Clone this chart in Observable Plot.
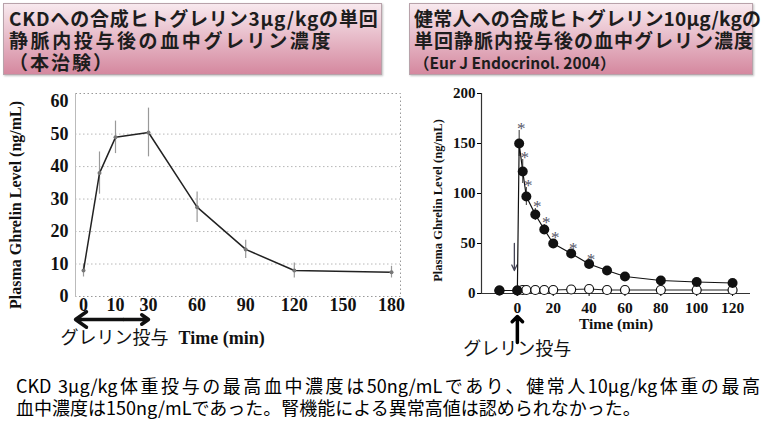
<!DOCTYPE html>
<html><head><meta charset="utf-8">
<script src="https://cdn.jsdelivr.net/npm/d3@7"></script>
<script src="https://cdn.jsdelivr.net/npm/@observablehq/plot@0.6"></script>
<style>
body{margin:0;background:#fff;width:764px;height:423px;overflow:hidden;position:relative;font-family:"Noto Sans CJK JP",sans-serif;}
.box{position:absolute;top:3px;height:72px;box-sizing:border-box;border:1px solid #b8a2aa;background:linear-gradient(#f8e9ee,#d5889f);box-shadow:1px 1px 2px rgba(0,0,0,.25);padding:3px 0 0 5px;font-weight:700;font-size:19px;line-height:22px;color:#1d1d1d;white-space:nowrap}
#b1{left:3px;width:379px}
#b2{left:409px;width:344px;padding-left:4px}
#c1{position:absolute;left:0;top:85px}
#c2{position:absolute;left:405px;top:80px}
.cap{position:absolute;left:16px;font-size:18px;line-height:22px;color:#000;white-space:nowrap}
</style></head><body>
<div class="box" id="b1"><div style="letter-spacing:0.8px">CKDへの合成ヒトグレリン3μg/kgの単回</div><div style="letter-spacing:2.6px">静脈内投与後の血中グレリン濃度</div><div style="letter-spacing:2px">（本治験）</div></div>
<div class="box" id="b2"><div style="letter-spacing:0.2px">健常人への合成ヒトグレリン10μg/kgの</div><div style="letter-spacing:1px">単回静脈内投与後の血中グレリン濃度</div><div style="font-weight:600;font-size:15.5px">（Eur J Endocrinol. 2004）</div></div>
<div id="c1"></div>
<div id="c2"></div>
<div class="cap" style="top:374px;width:744px;text-align:justify;text-align-last:justify">CKD 3μg/kg体重投与の最高血中濃度は50ng/mLであり、健常人10μg/kg体重の最高</div>
<div class="cap" style="top:396px">血中濃度は150ng/mLであった。腎機能による異常高値は認められなかった。</div>
<script>
// ---- Left chart data (CKD, 3 μg/kg) ----
const ckdTime = [0, 5, 10, 30, 60, 90, 120, 180];
const ckdMean = [8, 38, 49, 50.5, 27.5, 14.5, 8, 7.5];
const ckdSD = [2, 6.5, 5, 7.5, 4.7, 2.8, 2.3, 1.8];
const ckdXTicks = [0, 10, 30, 60, 90, 120, 150, 180];
const ckdYTicks = [0, 10, 20, 30, 40, 50, 60];
const dosePeriod = [0, 30];

// ---- Right chart data (healthy, 10 μg/kg) ----
const hvTime = [-10, 0, 1, 3, 5, 10, 15, 20, 30, 40, 50, 60, 80, 100, 120];
const hvGhrelin = [3, 3, 150, 122, 97, 79, 64, 50, 40, 29.5, 23, 17, 13, 11.5, 10.5];
const hvSE = [0.5, 0.5, 13, 12, 9, 6, 5, 4, 3, 2.5, 2, 1.5, 1, 1, 1];
const hvStarTimes = [1, 3, 5, 10, 15, 20, 30, 40];
const pboTime = [-10, 0, 3, 5, 10, 15, 20, 30, 40, 50, 60, 80, 100, 120];
const pboGhrelin = [3, 3, 3.5, 3.5, 3.5, 3.5, 3.5, 4, 4.5, 3.5, 3.5, 3.5, 3.5, 3.5];
const hvXTicks = [0, 20, 40, 60, 80, 100, 120];
const hvYTicks = [0, 50, 100, 150, 200];
const doseTime = [0];

const serif = '"Liberation Serif","Times New Roman",serif';
const jp = '"Noto Sans CJK JP",sans-serif';

const ckd = ckdTime.map((t, i) => ({t, v: ckdMean[i], sd: ckdSD[i]}));
const mid = (dosePeriod[0] + dosePeriod[1]) / 2;

const p1 = Plot.plot({
  width: 405, height: 280,
  marginLeft: 75, marginRight: 5, marginTop: 8, marginBottom: 69,
  x: {type: "linear", domain: [0, 10, 30, 180], range: [83, 115, 148, 391]},
  y: {domain: [0, 62.5]},
  style: {background: "transparent", overflow: "visible"},
  marks: [
    Plot.gridY(ckdYTicks.slice(1, 6), {stroke: "#999", strokeOpacity: 0.7, strokeDasharray: "1.5,2.5"}),
    Plot.frame({stroke: "#999", strokeDasharray: "1.5,2.5"}),
    Plot.frame({anchor: "left", stroke: "#bbb"}),
    Plot.axisY(ckdYTicks, {tickSize: 0, tickPadding: 7, fontSize: 18, fontWeight: "bold", fontFamily: serif, fill: "#111", label: null}),
    Plot.axisX(ckdXTicks, {tickSize: 0, tickPadding: 2, fontSize: 18, fontWeight: "bold", fontFamily: serif, fill: "#111", label: null}),
    Plot.ruleX(ckd, {x: "t", y1: d => d.v - d.sd, y2: d => d.v + d.sd, stroke: "#999", strokeWidth: 1.2}),
    Plot.line(ckd, {x: "t", y: "v", stroke: "#222", strokeWidth: 1.5}),
    Plot.dot(ckd, {x: "t", y: "v", r: 2, fill: "#777"}),
    Plot.arrow([{a: mid, b: dosePeriod[0]}], {x1: "a", x2: "b", y1: () => 0, y2: () => 0, dy: 23, insetEnd: -8, stroke: "#111", strokeWidth: 3.5, headLength: 12, headAngle: 70}),
    Plot.arrow([{a: mid, b: dosePeriod[1]}], {x1: "a", x2: "b", y1: () => 0, y2: () => 0, dy: 23, stroke: "#111", strokeWidth: 3.5, headLength: 12, headAngle: 70}),
    Plot.text(["Plasma Ghrelin Level (ng/mL)"], {frameAnchor: "left", textAnchor: "middle", rotate: -90, dx: -60, dy: 10, fontSize: 16, fontWeight: "bold", fontFamily: serif, fill: "#111"}),
    Plot.text(["グレリン投与"], {frameAnchor: "bottom-left", dx: -15, dy: 47, textAnchor: "start", fontSize: 18, fontFamily: jp, fill: "#111"}),
    Plot.text(["Time (min)"], {frameAnchor: "bottom-left", dx: 103, dy: 47, textAnchor: "start", fontSize: 18, fontWeight: "bold", fontFamily: serif, fill: "#111"})
  ]
});
document.getElementById("c1").append(p1);

const hv = hvTime.map((t, i) => ({t, v: hvGhrelin[i], se: hvSE[i]}));
const pbo = pboTime.map((t, i) => ({t, v: pboGhrelin[i]}));
const stars = hv.filter(d => hvStarTimes.includes(d.t));

const p2 = Plot.plot({
  width: 359, height: 285,
  marginLeft: 76, marginRight: 14, marginTop: 13, marginBottom: 72,
  x: {domain: [-20, 130]},
  y: {domain: [0, 200]},
  style: {background: "transparent", overflow: "visible"},
  marks: [
    Plot.ruleY([0], {stroke: "#333", strokeWidth: 1.2}),
    Plot.ruleX([-20], {stroke: "#333", strokeWidth: 1.2}),
    Plot.axisY(hvYTicks, {tickSize: 4, tickPadding: 2, fontSize: 15, fontWeight: "bold", fontFamily: serif, fill: "#111", label: null}),
    Plot.axisX(hvXTicks, {tickSize: 3, tickPadding: 5, fontSize: 15.5, fontWeight: "bold", fontFamily: serif, fill: "#111", label: null}),
    Plot.arrow(doseTime, {x1: d => d, x2: d => d, y1: () => 50, y2: () => 23, dx: -3, stroke: "#445", strokeWidth: 1.3, headLength: 7, headAngle: 50}),
    Plot.ruleX(hv, {x: "t", y1: d => d.v - d.se, y2: d => d.v + d.se, stroke: "#333", strokeWidth: 1}),
    Plot.line(pbo, {x: "t", y: "v", stroke: "#222", strokeWidth: 1}),
    Plot.dot(pbo, {x: "t", y: "v", r: 4.5, fill: "white", stroke: "#111", strokeWidth: 1.2}),
    Plot.line(hv, {x: "t", y: "v", stroke: "#111", strokeWidth: 1.2}),
    Plot.dot(hv, {x: "t", y: "v", r: 5, fill: "#111"}),
    Plot.text(stars, {x: "t", y: d => d.v + d.se, text: () => "*", dx: 2, dy: -2, fontSize: 17, fontFamily: serif, fill: "#556"}),
    Plot.vector(doseTime, {x: d => d, y: () => 0, dy: 49, length: 26, rotate: 0, anchor: "start", shape: "arrow", stroke: "#000", strokeWidth: 3.5}),
    Plot.text(["Plasma Ghrelin Level (ng/mL)"], {frameAnchor: "left", textAnchor: "middle", rotate: -90, dx: -44, dy: 7, fontSize: 12.5, fontWeight: "bold", fontFamily: serif, fill: "#111"}),
    Plot.text(["Time (min)"], {frameAnchor: "bottom", dy: 35, fontSize: 15.5, fontWeight: "bold", fontFamily: serif, fill: "#111"}),
    Plot.text(doseTime, {x: d => d, frameAnchor: "bottom", text: () => "グレリン投与", dy: 61, fontSize: 18, fontFamily: jp, fill: "#111"})
  ]
});
document.getElementById("c2").append(p2);
</script>
</body></html>
